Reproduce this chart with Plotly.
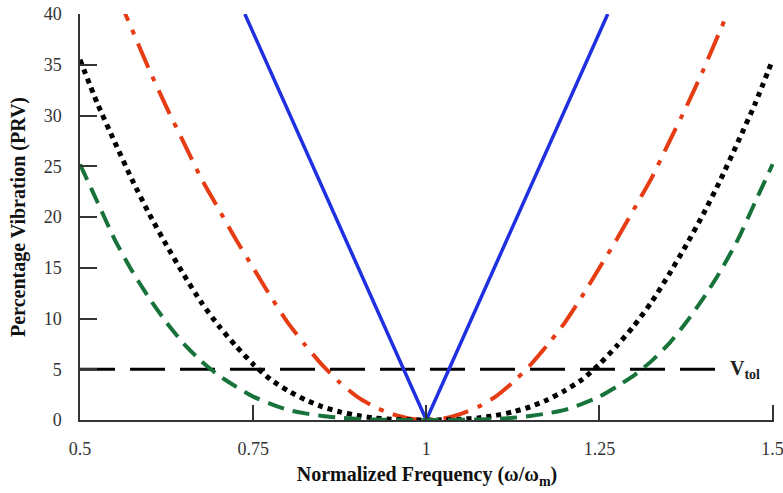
import plotly.graph_objects as go

# Normalized frequency sample points
freq = [0.5, 0.525, 0.55, 0.575, 0.6, 0.625, 0.65, 0.675, 0.7, 0.725, 0.75,
        0.775, 0.8, 0.825, 0.85, 0.875, 0.9, 0.925, 0.95, 0.975, 1.0,
        1.025, 1.05, 1.075, 1.1, 1.125, 1.15, 1.175, 1.2, 1.225, 1.25,
        1.275, 1.3, 1.325, 1.35, 1.375, 1.4, 1.425, 1.45, 1.475, 1.5]

prv_red = [51, 47.5, 42.5, 38.5, 34.5, 30.8, 27.3, 23.8, 20.8, 17.8, 15.0,
           12.2, 9.6, 7.4, 5.4, 3.7, 2.3, 1.3, 0.6, 0.15, 0,
           0.15, 0.6, 1.3, 2.3, 3.7, 5.4, 7.4, 9.6, 12.2, 15.0,
           17.8, 20.8, 23.8, 27.3, 30.8, 34.5, 38.5, 42.5, 47.5, 51]

prv_black = [35.5, 31.2, 27.4, 23.7, 20.3, 17.2, 14.3, 11.6, 9.3, 7.3, 5.5,
             4.0, 2.9, 2.0, 1.3, 0.8, 0.45, 0.2, 0.08, 0.02, 0,
             0.02, 0.08, 0.2, 0.45, 0.8, 1.3, 2.0, 2.9, 4.0, 5.5,
             7.3, 9.3, 11.6, 14.3, 17.2, 20.3, 23.7, 27.4, 31.2, 35.5]

prv_green = [25.2, 21.5, 17.8, 14.7, 12.0, 9.6, 7.5, 5.8, 4.4, 3.3, 2.3,
             1.6, 1.0, 0.65, 0.4, 0.22, 0.1, 0.05, 0.02, 0.0, 0,
             0.0, 0.02, 0.05, 0.1, 0.22, 0.4, 0.65, 1.0, 1.6, 2.3,
             3.3, 4.4, 5.8, 7.5, 9.6, 12.0, 14.7, 17.8, 21.5, 25.2]

blue_x = [0.738, 1.0, 1.262]
blue_y = [40, 0, 40]

vtol_x = [0.5, 1.421]
vtol_y = [5, 5]
vtol_label = "<b>V<sub>tol</sub></b>"

x_ticks = [0.5, 0.75, 1, 1.25, 1.5]
x_tick_text = ["0.5", "0.75", "1", "1.25", "1.5"]
y_ticks = [0, 5, 10, 15, 20, 25, 30, 35, 40]

SERIF = "Liberation Serif, Times New Roman, serif"

fig = go.Figure()
fig.add_trace(go.Scatter(x=vtol_x, y=vtol_y, mode="lines",
                         line=dict(color="black", width=3, dash="35px,15px"),
                         showlegend=False))
fig.add_trace(go.Scatter(x=blue_x, y=blue_y, mode="lines",
                         line=dict(color="#1e30e0", width=3.5),
                         showlegend=False))
fig.add_trace(go.Scatter(x=freq, y=prv_red, mode="lines",
                         line=dict(color="#e63c14", width=4, dash="26px,10px,5px,10px",
                                   shape="spline", smoothing=0.6),
                         showlegend=False))
fig.add_trace(go.Scatter(x=freq, y=prv_black, mode="lines",
                         line=dict(color="black", width=5, dash="5px,5px",
                                   shape="spline", smoothing=0.6),
                         showlegend=False))
fig.add_trace(go.Scatter(x=freq, y=prv_green, mode="lines",
                         line=dict(color="#17733a", width=4, dash="17px,9px",
                                   shape="spline", smoothing=0.6),
                         showlegend=False))

fig.add_annotation(x=1.436, y=5, xref="x", yref="y", text=vtol_label,
                   showarrow=False, xanchor="left", yanchor="middle",
                   font=dict(family=SERIF, size=20, color="#222"))

fig.update_layout(
    width=783, height=493,
    margin=dict(l=80, r=9, t=14, b=73),
    paper_bgcolor="white", plot_bgcolor="white",
    font=dict(family=SERIF, size=18, color="#333"),
)
fig.update_xaxes(range=[0.5, 1.502], tickvals=x_ticks, ticktext=x_tick_text,
                 showgrid=False, zeroline=False, showline=True,
                 linecolor="#333", linewidth=1.5,
                 ticks="inside", ticklen=15, tickwidth=1.5, tickcolor="#333",
                 ticklabelstandoff=12, ticklabeloverflow="allow",
                 tickfont=dict(family=SERIF, size=18, color="#333"),
                 title=dict(text="<b>Normalized Frequency (ω/ω<sub>m</sub>)</b>",
                            font=dict(family=SERIF, size=20, color="#111"),
                            standoff=9),
                 automargin=False)
fig.update_yaxes(range=[0, 40], tickvals=y_ticks,
                 showgrid=False, zeroline=False, showline=True,
                 linecolor="#333", linewidth=1.5,
                 ticks="inside", ticklen=17, tickwidth=1.5, tickcolor="#333",
                 ticklabelstandoff=13, ticklabeloverflow="allow",
                 tickfont=dict(family=SERIF, size=18, color="#333"),
                 title=dict(text="<b>Percentage Vibration (PRV)</b>",
                            font=dict(family=SERIF, size=20, color="#111"),
                            standoff=13),
                 automargin=False)

fig.write_html("out.html")
